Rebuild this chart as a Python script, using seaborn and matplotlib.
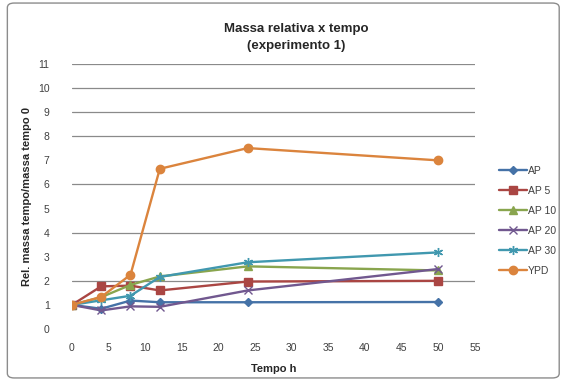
import pandas as pd
import matplotlib.pyplot as plt
import seaborn as sns
from matplotlib.patches import FancyBboxPatch

# -------------------------------
# Data
# -------------------------------
tempo = [0, 4, 8, 12, 24, 50]
ap = [1.0, 0.84, 1.18, 1.11, 1.11, 1.12]
ap5 = [1.0, 1.77, 1.80, 1.60, 1.97, 2.0]
ap10 = [1.0, 1.32, 1.83, 2.18, 2.60, 2.43]
ap20 = [1.0, 0.77, 0.94, 0.92, 1.60, 2.49]
ap30 = [1.0, 1.19, 1.38, 2.16, 2.77, 3.18]
ypd = [1.0, 1.33, 2.25, 6.65, 7.51, 7.0]

series_names = ["AP", "AP 5", "AP 10", "AP 20", "AP 30", "YPD"]
series_values = [ap, ap5, ap10, ap20, ap30, ypd]
colors = ["#4572A7", "#AA4643", "#89A54E", "#71588F", "#4198AF", "#DB843D"]
markers = ["D", "s", "^", "x", (6, 2, 0), "o"]
marker_sizes = [4.5, 5.5, 6, 5.5, 6.5, 6]

x_ticks = list(range(0, 60, 5))
y_ticks = list(range(0, 12))
grid_levels = [2, 4, 6, 8, 9, 10, 11]

rows = []
for name, vals in zip(series_names, series_values):
    for t, v in zip(tempo, vals):
        rows.append({"tempo": t, "massa": v, "serie": name})
df = pd.DataFrame(rows)

# -------------------------------
# Figure
# -------------------------------
sns.set_theme(style="white")
plt.rcParams["font.family"] = ["Liberation Sans", "DejaVu Sans"]

fig = plt.figure(figsize=(5.66, 3.81), dpi=100)
ax = fig.add_axes([0.127, 0.1365, 0.712, 0.6955])

border = FancyBboxPatch((0.013, 0.008), 0.975, 0.984,
                        boxstyle="round,pad=0,rounding_size=0.012",
                        transform=fig.transFigure, fill=False,
                        edgecolor="#8c8c8c", linewidth=1.0)
fig.patches.append(border)

for y in grid_levels:
    ax.axhline(y, color="#8a8a8a", linewidth=0.9, zorder=0)

for name, col, mk, ms in zip(series_names, colors, markers, marker_sizes):
    sub = df[df["serie"] == name]
    sns.lineplot(data=sub, x="tempo", y="massa", ax=ax, color=col,
                 marker=mk, markersize=ms, linewidth=1.7,
                 markeredgecolor=col, markeredgewidth=1.0,
                 label=name, zorder=3)

ax.set_xlim(0, 55)
ax.set_ylim(0, 11)
ax.set_xticks(x_ticks)
ax.set_yticks(y_ticks)
ax.tick_params(axis="both", length=0, labelsize=7.5, labelcolor="#404040")
ax.tick_params(axis="y", pad=16)
ax.tick_params(axis="x", pad=10)
for s in ax.spines.values():
    s.set_visible(False)

ax.set_xlabel("Tempo h", fontsize=8, fontweight="bold", labelpad=8)
ax.set_ylabel("Rel. massa tempo/massa tempo 0", fontsize=8,
              fontweight="bold")
ax.yaxis.set_label_coords(-0.1, 0.5)

fig.text(0.523, 0.925, "Massa relativa x tempo", ha="center", va="center",
         fontsize=9.5, fontweight="bold")
fig.text(0.523, 0.878, "(experimento 1)", ha="center", va="center",
         fontsize=9.5, fontweight="bold")

ax.legend(loc="upper left", bbox_to_anchor=(0.875, 0.575),
          bbox_transform=fig.transFigure, frameon=False, fontsize=7.5,
          handlelength=2.6, labelspacing=0.95, handletextpad=0.15,
          borderaxespad=0, labelcolor="#404040")

plt.savefig("out.png", dpi=100)
plt.close()
